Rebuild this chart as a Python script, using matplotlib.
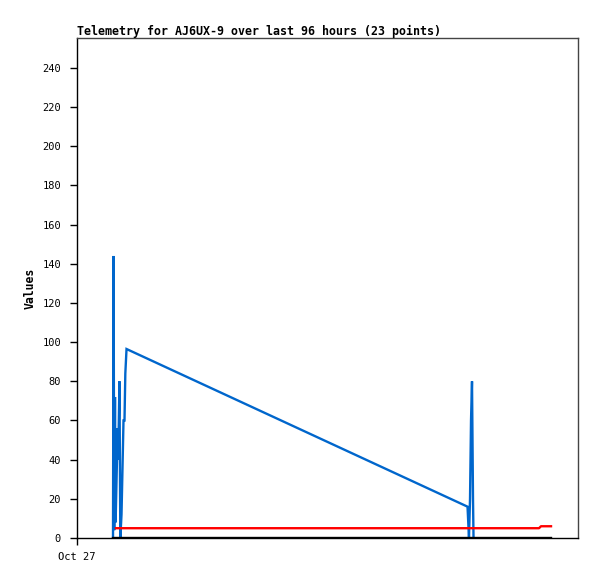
import matplotlib
matplotlib.use("Agg")
import matplotlib.pyplot as plt

# hours since Oct 27 00:00
blue_t = [6.90, 7.01, 7.13, 7.28, 7.40, 7.66, 7.78, 7.89, 8.14, 8.30, 8.53,
          8.72, 8.91, 9.10, 9.26, 9.49, 74.83, 75.11, 75.31, 75.50, 75.69,
          75.88, 75.98]
blue_v = [0, 144, 4, 72, 8, 40, 56, 40, 80, 0, 12, 36, 60, 60, 84, 96.5,
          16, 0, 20, 60, 80, 20, 0]
red_t = [7.47, 88.53, 88.91, 90.83]
red_v = [5, 5, 6, 6]
black_t = [6.90, 90.83]
black_v = [0, 0]

title = "Telemetry for AJ6UX-9 over last 96 hours (23 points)"
ylabel = "Values"
xtick_pos = [0]
xtick_labels = ["Oct 27"]
ytick_pos = list(range(0, 241, 20))

fig = plt.figure(figsize=(5.97, 5.79), dpi=100)
ax = fig.add_axes([77/597, 41/579, 501/597, 500/579])

mono = "DejaVu Sans Mono"
ax.plot(blue_t, blue_v, color="#0066cc", lw=1.7, solid_joinstyle="miter")
ax.plot(red_t, red_v, color="#ff0000", lw=1.7)
ax.plot(black_t, black_v, color="#000000", lw=1.7)

ax.set_xlim(0, 96)
ax.set_ylim(0, 255.3)
ax.set_xticks(xtick_pos)
ax.set_xticklabels(xtick_labels, fontfamily=mono, fontsize=7.5)
ax.set_yticks(ytick_pos)
ax.set_yticklabels([str(v) for v in ytick_pos], fontfamily=mono, fontsize=7.5)
ax.tick_params(axis="both", direction="out", length=5, width=1, color="black")
ax.tick_params(axis="y", pad=6.5)
ax.tick_params(axis="x", pad=5)

for s in ["top", "right"]:
    ax.spines[s].set_color("#444444")
for s in ["left", "bottom"]:
    ax.spines[s].set_color("black")
for s in ax.spines.values():
    s.set_linewidth(1)

ax.set_ylabel(ylabel, fontfamily=mono, fontsize=8.3, fontweight="bold", labelpad=4)
fig.text(77/597, 1 - 31/579, title, fontfamily=mono, fontsize=8.35, fontweight="bold",
         ha="left", va="center")

fig.savefig("out.png", dpi=100)
